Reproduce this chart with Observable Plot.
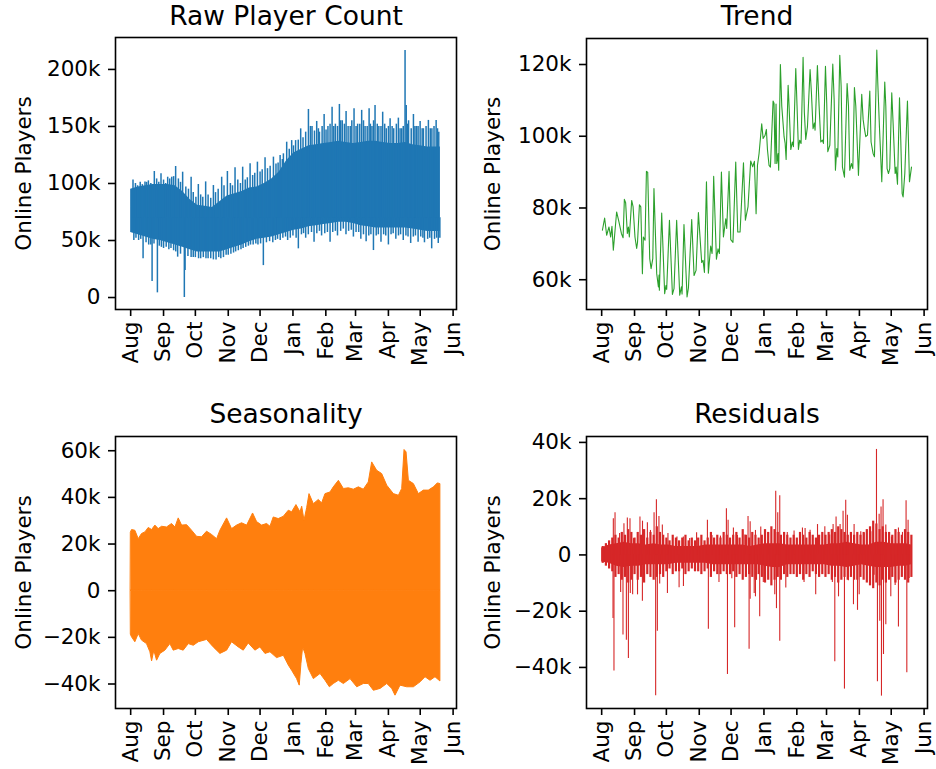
<!DOCTYPE html>
<html>
<head>
<meta charset="utf-8">
<script src="https://cdn.jsdelivr.net/npm/d3@7"></script>
<script src="https://cdn.jsdelivr.net/npm/@observablehq/plot@0.6"></script>
<style>
  body { margin: 0; background: #fff; }
  #wrap { position: relative; width: 936px; height: 769px; font-family: "DejaVu Sans", sans-serif; }
  #wrap > svg { position: absolute; overflow: visible; }
</style>
</head>
<body>
<div id="wrap"></div>
<script>
// ---------- data (days counted from 2017-08-01, values in thousands) ----------
const startDate = "2017-08-01";
const monthTicks = ["2017-08-01","2017-09-01","2017-10-01","2017-11-01","2017-12-01","2018-01-01","2018-02-01","2018-03-01","2018-04-01","2018-05-01","2018-06-01"];
const titles = ["Raw Player Count", "Trend", "Seasonality", "Residuals"];
const yLabel = "Online Players";

const rawYTicks = [0, 50000, 100000, 150000, 200000];
const trendYTicks = [60000, 80000, 100000, 120000];
const seasonYTicks = [-40000, -20000, 0, 20000, 40000, 60000];
const residYTicks = [-40000, -20000, 0, 20000, 40000];

// Raw: solid band (weekly) + spikes + daily teeth
const bandDays = [0,7,14,21,28,35,42,49,56,63,70,77,84,91,98,105,112,119,126,133,140,147,154,161,168,175,182,189,196,203,210,217,224,231,238,245,252,259,266,273,280,287,292];
const rawTopK = [95,97,98,99,99,99,98,93,86,81,80,79,84,89,91,93,96,97,100,104,110,120,127,130,133,134,135,136,137,136,135,136,137,137,136,135,135,136,134,133,132,132,132];
const rawBottomK = [57,55,53,51,50,48,46,44,42,40,40,40,40,42,44,46,49,51,52,53,55,57,59,60,62,63,64,65,66,66,65,63,62,61,61,61,61,61,60,59,58,58,58];
const rawSpikeDays = [2.2,9,13.5,16.7,22.3,28.6,34.9,38.7,42.4,49,57,63.8,70.7,78,85.8,91.2,98.4,105.6,112.6,119.5,126.7,134.6,140.9,144,147.1,151.8,155.5,160.3,167.6,171,175.4,178,182.4,186,189.9,193,196.8,199.5,203.1,207,210.6,214,217.8,221,224.8,227.5,230.4,234,237.6,241,244.6,248,252.4,255.5,258.7,259.8,262,266.6,269.5,272.9,276,280.7,284,288,290.5,
  3,11.7,17,20.2,25.2,31,38,44.3,50.6,51.3,57,64,71,78,85,92,99,106,113,120,125.1,134,141,148,158.1,165,172.9,180,188,195,203,210,217,222,228.9,236,243,250,257,264,271,277,283.8,290];
const rawSpikeK = [103,101,101.4,102.3,110.5,108.5,105.5,105.5,114.9,109.9,105.5,99.1,101.4,98.2,105.5,110.5,113.7,114.3,117.2,118.7,122.5,123.1,124.5,126,136.2,137.6,137.6,147.9,164.9,150,154.4,145,160.5,150,166.9,152,169.3,155,163.1,150,165.5,152,164.1,150,165.5,150,168.4,150,162.5,148,156.7,148,157.3,148,216.6,168.4,155,160.5,150,154.4,148,155.3,148,155.3,145,
  50,33.9,46,14,4.1,43,43,35.4,0,23.7,35,34,34,33,34,37,40,43,46,46,28,48,50,50,42.7,52,48.5,54,48.5,54,55,53,51,49,41.2,48.5,46.1,51,50,47.4,48.5,48,42.7,47.4];
const rawTeethUpDays = [4.5,6.5,11,15,19,24.5,26.5,31,33,36.8,40.5,45,47,52,54.5,59,61.5,66,68,73,75.5,80,82.5,88,94,96,101,103.5,108,110,115,117,122,124,129,131.5,137,139,143,149.5,153.5,158,162.5,165,169.5,173.3,177,180.5,184.2,188,191.5,195,198,201.5,205,208.5,212.5,216,219.5,223,226,229,232.5,236,239.5,243,246.5,250.5,254,257,261,264.5,268,271,274.8,278.5,282.5,286,289.3];
const rawTeethUpK = [100,98,99,101,100,104,101,103,100,104,106,104,101,97,95,92,88,90,88,90,87,92,95,98,100,98,103,100,103,105,107,109,110,112,113,115,117,118,121,130,133,138,140,145,150,146,148,150,147,152,150,150,155,152,150,155,150,152,155,150,152,155,152,150,152,150,150,152,148,150,152,148,150,150,148,150,148,150,148];
const rawTeethLoDays = [5,7.5,9.5,14.5,19,22,27,29,33.5,36,40.5,42.5,47,54,59,61,66,68.5,73,75.5,80.5,83,87.5,90,94.5,97,101.5,104,108.5,111,115.5,118,122.5,128,131,136.5,138.5,143.5,146,150.5,153,156,161,163,167.5,170.5,175.5,178,183,185.5,190.5,193,198,200.5,205.5,208,212.5,215,219.5,224.5,226.5,231.5,233.5,238.5,240.5,245.5,247.5,252.5,254.5,259.5,261.5,266.5,268.5,273.5,275.5,280,282,286.5,288.5,291.5];
const rawTeethLoK = [52,50,51,48,46,47,45,44,44,42,41,40,38,36,35,35,34,35,34,34,33,35,35,37,38,39,41,42,44,45,46,47,47,48,49,50,51,52,53,52,54,52,55,56,55,57,56,58,56,57,57,58,58,60,58,59,57,57,55,54,55,54,55,55,54,55,56,54,55,54,53,53,54,53,52,51,52,51,52,52];
const rawSpikeBaseK = 70;

// Trend
const trendDays = [0.7,2.8,4.7,6.9,8.5,9.7,11,14.1,16.3,18.6,20.2,21.4,22.6,24.2,25.2,26.1,28.3,29.6,31.4,33,33.8,35.6,36.9,38.4,39.3,40.9,42.2,43.4,45.3,46.6,48.2,49.3,51.9,53.5,54.1,54.4,56.6,59.4,60.6,61.3,63.9,66.7,68.2,70.7,73.6,75.2,75.8,77.6,80.5,81.8,84.9,87.1,89,91.2,94.3,95.6,96.9,98.8,100.6,102.8,104.1,105.6,108.2,109.7,111,112.9,114.8,117,117.9,120.1,121.7,123.8,126.4,128.3,130.5,133.7,135.5,138,140.5,142.4,144,145.6,146.9,148.4,150.9,152.2,154.1,155.3,156.3,157.8,159.1,161.6,162.5,163.5,164.4,165.1,166.3,166.9,168.5,169.8,172,173,173.9,175.8,176.7,178.3,179.8,180.8,183,184.2,185.5,186.7,188,189.9,191.1,192.4,194,196.5,197.8,199.3,200.6,201.2,203.4,205,206.6,208.1,209.1,211,212.2,213.2,215.1,217.9,219.2,220.4,221.7,222.6,224.5,225.8,227,228.9,231.4,232.7,233.9,235.5,236.8,238.3,239.6,242.1,245.2,246.5,247.7,249,250.6,252.8,254,255.9,257.2,259.4,260.3,261.9,264.1,266.9,267.9,269.1,270.4,271.6,273.5,274.8,276.7,277.6,278.9,280.8,282,283.3,284.2,285.8,288.3,290.2,292.1];
const trendK = [73.8,77.2,72.4,74.7,71.9,74.9,68.2,78.9,76.1,72.9,71.7,82.4,81.5,72.9,74.7,71.9,82.1,80.4,71.9,68.7,70.4,80.9,80.3,61.7,71.9,71,90.2,90,65.9,63.1,65.9,85.4,61.7,58,61.3,57.1,78.6,56.1,58.4,57.3,76.6,55.9,57.5,76.6,55.7,58,56,75.4,55.2,57.7,76.8,61.2,62.6,78.7,64.8,65.4,62,87.3,61.8,69.4,67.3,88.8,65.7,68.6,67.3,90,71.9,77,74.3,90.2,71.2,70.4,92.8,73.3,73.3,92.6,76.6,80.4,93.1,91.5,93,78.4,91.9,95.2,103.5,99.4,100.3,101.9,96.3,91.9,91.4,109.8,109.2,92.4,109,92.4,95.2,90.5,120,108.4,99.8,98,93.5,114.2,108.4,96.3,98.4,97.1,118.9,108.4,96.3,98.9,98,122,106.6,99.1,102.6,118.6,111.9,102.1,103.7,101.7,119.7,108.4,98.4,98.9,98,119.5,109.2,95.7,97.5,120.1,110.1,90.5,96.6,94.2,122.6,113.8,91.4,88.6,114.7,108.4,90.5,92.4,91,113.6,108.4,89.1,111.7,104.7,102.1,99.9,100.3,112.6,98.4,95.2,94.3,124,115.1,102.6,87.3,115.1,108.4,91,89.6,91,112.1,103.5,89.6,91.4,86.6,110.7,98.9,84,83.1,89.6,109.8,87.3,91.4];

// Seasonality envelope
const seasonUpDays = [0.3,1.3,4.4,7.6,10.7,13.9,17,20.2,23.3,26.4,29.6,34.3,39,42.2,45.3,48.5,53.2,57.9,62.6,67.3,72,76.7,81.5,84.6,90.9,95.6,100.3,105,109.8,115.4,119.2,123.9,128.6,131.8,134.9,139.6,144.4,149.1,152.2,156.3,160.1,161.7,163.9,166.4,168.6,172.7,177.4,180.5,183.7,188.4,191.5,196.3,201,205.7,210.4,215.1,219.8,224.5,227.7,232.4,237.1,241.9,248.1,252.9,256,258.2,260.1,262.3,267,271.7,276.4,281.1,285.9,289.6,292];
const seasonUpK = [25,26,25.7,22.1,24.3,25,26.9,26,27.9,26.4,27.4,27.1,28.6,27.1,31,27.9,28.1,25.7,23.1,22.9,25.3,23.9,22.1,25.7,31,26.4,27.9,28.9,27.9,33.1,29.4,27.9,28.6,27.4,31.4,30.7,31.7,34.3,33.6,36.7,33.6,36,30,35.4,41.4,37.1,38.9,37.4,41.4,42.1,44.3,47.1,43.6,43.9,43.3,44.3,43.3,46.4,55,51.4,50,45,41.4,40.7,43.6,60.3,59.3,47.1,45.7,41.4,42.9,42.9,44.3,46,45.7];
const seasonLoDays = [0.3,1.3,4.4,7.6,10.7,15.4,18.6,20.2,22.3,24.9,28,32.7,37.4,40.6,45.3,50,54.8,59.5,64.2,72,78.3,84.6,90.9,95.6,101.9,106.6,111.3,117.6,122.3,127.1,131.8,138,144.4,149.1,152.2,156.9,159.4,161,162.6,164.8,168,172.7,179,183.7,187.8,191.5,196.3,201,207.3,213.6,219.8,224.5,229.3,235.6,241.9,246.6,249.7,254.4,260.7,267,273.3,278,282.7,287.4,292];
const seasonLoK = [-19,-20,-22.1,-18.6,-21.4,-22.9,-26.4,-30.3,-25.7,-30,-27.1,-25.7,-22.9,-25.7,-25,-25.7,-22.9,-23.6,-22.1,-21.1,-24.3,-27.1,-25.7,-22.1,-24.3,-25.7,-22.6,-25.7,-24.3,-27.1,-26.4,-28.9,-27.9,-32.1,-34.3,-37.9,-40.7,-31.4,-24.3,-27.1,-33.6,-37.9,-35.7,-38.6,-41.4,-40,-38.6,-40,-37.9,-41.4,-40,-40,-42.9,-42.1,-40,-42.1,-45,-40.7,-41.4,-41.4,-39.3,-37.1,-38.6,-37.1,-38.9];

// Residuals: core band (weekly) + spikes + 3-day fuzz
const residUpK = [2.5,3.5,4,4.5,4,4,3.5,4,3.5,3.5,3,3,3,3,3.5,3.5,3.5,3.5,3.5,3.5,3,3.5,4,4,4,3.5,3.5,3.5,3.5,3.5,3.5,4,4,4.5,4,3.5,3.5,4.5,4.5,4,4,4,3.5];
const residLoK = [-2.5,-3,-4,-4.5,-4,-4,-3.5,-3.5,-3.5,-3.5,-3,-3,-3,-3,-3,-3.5,-3.5,-3.5,-3.5,-3.5,-3.5,-3.5,-4,-4.5,-4.5,-3.5,-3.5,-3.5,-3.5,-3.5,-3.5,-4,-4,-4.5,-4,-3.5,-4,-4.5,-4.5,-4.5,-4,-4,-3.5];
const residFuzzDays = [1,4,7,10,13,16,19,22,25,28,31,34,37,40,43,46,49,52,55,58,61,64,67,70,73,76,79,82,85,88,91,94,97,100,103,106,109,112,115,118,121,124,127,130,133,136,139,142,145,148,151,154,157,160,163,166,169,172,175,178,181,184,187,190,193,196,199,202,205,208,211,214,217,220,223,226,229,232,235,238,241,244,247,250,253,256,259,262,265,268,271,274,277,280,283,286,289,292];
const residFuzzHiK = [3,4,5,6,7,6,8,7,9,8, 6,8,7,9,6,8,7,10,8,7, 6,5,7,6,5,6,7,5,6,5, 6,7,5,6,8,6,7,6,8,7, 6,7,8,6,9,7,6,8,7,6, 7,9,8,10,9,8,7,8,7,6, 7,6,8,7,6,8,7,6,7,8, 7,8,9,8,10,9,8,7,8,7, 8,7,8,9,10,12,11,9,10,8, 8,7,9,8,7,9,8,7];
const residFuzzLoK = [-3,-4,-5,-6,-8,-7,-9,-8,-10,-9, -7,-9,-8,-10,-7,-8,-9,-8,-7,-8, -6,-5,-7,-6,-6,-5,-7,-6,-5,-6, -6,-7,-6,-5,-8,-6,-7,-7,-6,-7, -7,-6,-8,-7,-9,-8,-7,-8,-9,-7, -8,-10,-9,-11,-9,-8,-9,-7,-8,-7, -7,-8,-7,-9,-7,-8,-6,-7,-8,-7, -8,-7,-9,-8,-10,-9,-8,-9,-8,-9, -9,-8,-9,-10,-11,-12,-10,-11,-9,-10, -9,-8,-10,-9,-8,-9,-10,-8];
const residSpikeDays = [11,12.6,16.9,21,24.2,26.7,30,36.1,38.5,43.1,46,49.4,51.6,54,57.2,62.5,71,77,83,89.5,99.7,104,112,117.6,119.2,124.2,128,135,138,140,145,150,157,164.1,166,167.9,175,181.4,189.3,191.8,196.5,203.5,210.4,215,218.2,221,224.8,227.6,230.1,231.7,238,244.3,247.5,253.8,259.1,261.6,263.4,265.3,267.9,273.2,279.8,283.6,287,288.9,
  10.7,11.6,17.9,20.1,23.3,25.2,27,29.2,33.8,38.4,50.9,52.5,54.7,62,73,77.1,100.6,110.6,118.6,122.7,125.4,139,140,143.8,145,146,149,152.4,163.2,164.8,167.9,173.6,190.8,201.8,217.5,219.8,223.3,228.9,232.6,237.4,241.2,242.8,256.9,260,262.2,263.8,265.7,267.9,272.6,276.7,279.8,287.7,289.9];
const residSpikeK = [12.9,15,7.6,11.1,13.1,12.9,5.8,13.5,12,11.4,8.7,15,19.6,13.7,10.6,7.6,6.4,6.4,5.8,7.9,12.3,6.9,6.7,16.4,12.3,9.6,6.9,7.1,13.7,11.8,8.7,9.9,8,22.6,15,21,8,8.5,9.6,9.4,8.8,10.8,10,7.1,10.8,13.5,10.8,15.5,19.4,14.1,10.8,8.2,7.7,8.2,37.5,14.5,17,19.6,10.6,6.4,9.6,8,19.3,12.3,
  -22.6,-41.3,-13.4,-28.5,-30.3,-36.8,-13.7,-14.2,-14.2,-16.5,-50.1,-27.1,-10.3,-13.7,-11.7,-11.2,-26.4,-9.8,-42.5,-8.5,-25.9,-33.5,-15.8,-13.7,-14.9,-9,-22,-9.8,-14.2,-19.1,-30.7,-11.8,-9.8,-14.2,-9.8,-38,-14.9,-47.7,-9.2,-17.7,-19.7,-14.2,-7.2,-45.1,-23.6,-50.2,-35.4,-24.8,-14.9,-10.9,-25.6,-41.9,-8.4];

const colors = { raw: "#1f77b4", trend: "#2ca02c", season: "#ff7f0e", resid: "#d62728" };

// ---------- helpers ----------
const t0 = new Date(startDate + "T00:00:00Z").getTime();
const toDate = d => new Date(t0 + d * 864e5);
const series = (days, vals) => days.map((d, i) => ({ date: toDate(d), v: vals[i] * 1000 }));
const band = (days, lo, hi) => days.map((d, i) => ({ date: toDate(d), lo: lo[i] * 1000, hi: hi[i] * 1000 }));
const fmtK = v => v === 0 ? "0" : (v < 0 ? "\u2212" : "") + Math.abs(v / 1000) + "k";
const tickDates = monthTicks.map(s => new Date(s + "T00:00:00Z"));
const xDomain = [toDate(-14.3), toDate(307.2)];

const wrap = document.getElementById("wrap");

function panel({ left, top, height, mL, mR, mT, mB, yDomain, yTicks, title, titleDy, labelDx, marks }) {
  const svg = Plot.plot({
    width: 468, height,
    marginLeft: mL, marginRight: mR, marginTop: mT, marginBottom: mB,
    style: { fontFamily: "DejaVu Sans", fontSize: "21.5px", background: "transparent", overflow: "visible", color: "black" },
    x: { type: "utc", domain: xDomain },
    y: { domain: yDomain },
    marks: [
      ...marks,
      Plot.axisX({ ticks: tickDates, tickFormat: d3.utcFormat("%b"), tickRotate: -90, tickSize: 7, tickPadding: 5, strokeWidth: 1.6, label: null }),
      Plot.axisY({ ticks: yTicks, tickFormat: fmtK, tickSize: 7, tickPadding: 8, strokeWidth: 1.6, label: null }),
      Plot.frame({ stroke: "black", strokeWidth: 1.6 }),
      Plot.text([title], { text: d => d, frameAnchor: "top", dy: titleDy, lineAnchor: "middle", textAnchor: "middle", fontSize: 26.5, fill: "black" }),
      Plot.text([yLabel], { text: d => d, frameAnchor: "left", dx: labelDx, rotate: -90, textAnchor: "middle", lineAnchor: "middle", fontSize: 21.5, fill: "black" })
    ]
  });
  svg.style.left = left + "px";
  svg.style.top = top + "px";
  wrap.append(svg);
}

// Raw
const base = rawSpikeBaseK * 1000;
panel({
  left: 0, top: 0, height: 384, mL: 115, mR: 12, mT: 37, mB: 75,
  yDomain: [-10500, 228000], yTicks: rawYTicks, title: titles[0], titleDy: -21, labelDx: -91,
  marks: [
    Plot.areaY(band(bandDays, rawBottomK, rawTopK), { x: "date", y1: "lo", y2: "hi", fill: colors.raw }),
    Plot.ruleX(series(rawTeethUpDays, rawTeethUpK), { x: "date", y1: base, y2: "v", stroke: colors.raw, strokeWidth: 1.5 }),
    Plot.ruleX(series(rawTeethLoDays, rawTeethLoK), { x: "date", y1: base, y2: "v", stroke: colors.raw, strokeWidth: 1.5 }),
    Plot.ruleX(series(rawSpikeDays, rawSpikeK), { x: "date", y1: base, y2: "v", stroke: colors.raw, strokeWidth: 1.5 })
  ]
});

// Trend
panel({
  left: 468, top: 0, height: 384, mL: 118, mR: 9, mT: 38, mB: 75,
  yDomain: [51700, 127250], yTicks: trendYTicks, title: titles[1], titleDy: -22, labelDx: -93,
  marks: [
    Plot.line(series(trendDays, trendK), { x: "date", y: "v", stroke: colors.trend, strokeWidth: 1.1 })
  ]
});

// Seasonality
panel({
  left: 0, top: 384, height: 385, mL: 115, mR: 12, mT: 52, mB: 61,
  yDomain: [-50500, 66100], yTicks: seasonYTicks, title: titles[2], titleDy: -22, labelDx: -91,
  marks: [
    Plot.areaY(series(seasonUpDays, seasonUpK), { x: "date", y: "v", fill: colors.season, stroke: colors.season, strokeWidth: 1 }),
    Plot.areaY(series(seasonLoDays, seasonLoK), { x: "date", y: "v", fill: colors.season, stroke: colors.season, strokeWidth: 1 })
  ]
});

// Residuals
panel({
  left: 468, top: 384, height: 385, mL: 118, mR: 9, mT: 52, mB: 61,
  yDomain: [-54600, 42100], yTicks: residYTicks, title: titles[3], titleDy: -22, labelDx: -93,
  marks: [
    Plot.areaY(band(bandDays, residLoK, residUpK), { x: "date", y1: "lo", y2: "hi", fill: colors.resid }),
    Plot.ruleX(residFuzzDays.map((d, i) => ({ date: toDate(d), lo: residFuzzLoK[i] * 1000, hi: residFuzzHiK[i] * 1000 })), { x: "date", y1: "lo", y2: "hi", stroke: colors.resid, strokeWidth: 2.2 }),
    Plot.ruleX(series(residSpikeDays, residSpikeK), { x: "date", y1: 0, y2: "v", stroke: colors.resid, strokeWidth: 1.1 })
  ]
});
</script>
</body>
</html>
